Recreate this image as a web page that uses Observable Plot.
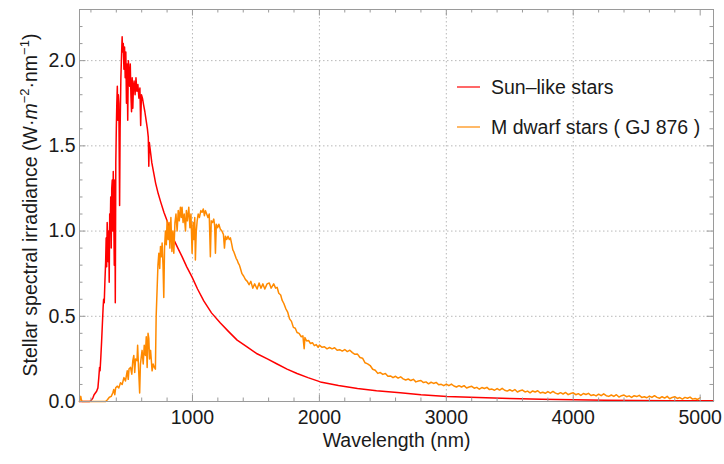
<!DOCTYPE html>
<html><head><meta charset="utf-8">
<script src="https://cdn.jsdelivr.net/npm/d3@7"></script>
<script src="https://cdn.jsdelivr.net/npm/@observablehq/plot@0.6"></script>
<style>body{margin:0;background:#fff}</style>
</head><body><div id="chart"></div>
<script>
// Sun-like stars: [wavelength nm, irradiance W·m^-2·nm^-1]
const sunLike = [
[110,0],[150,0],[190,0],[200,0.005],[215,0.02],[225,0.04],[235,0.05],[245,0.06],[255,0.08],[262,0.14],[268,0.2],[272,0.18],[278,0.26],[284,0.35],[290,0.45],[296,0.55],[300,0.6],[305,0.58],[310,0.7],[316,0.82],[320,0.96],[324,0.79],[328,1.05],[332,0.95],[336,0.82],[340,1.0],[344,0.7],[348,1.1],[352,1.0],[356,1.2],[360,0.9],[364,1.25],[368,1.3],[372,1.0],[376,1.35],[380,1.1],[384,0.8],[388,1.3],[392,0.58],[396,1.4],[400,1.6],[404,1.75],[408,1.85],[412,1.65],[416,1.8],[420,1.75],[426,1.15],[430,1.6],[436,1.9],[442,2.05],[446,2.14],[450,2.05],[455,2.1],[460,1.95],[465,2.08],[470,1.9],[475,2.05],[480,1.75],[485,1.98],[490,1.65],[495,2.0],[500,1.92],[505,1.85],[510,1.98],[515,1.8],[520,1.7],[525,1.9],[530,1.72],[535,1.85],[540,1.88],[548,1.8],[555,1.9],[562,1.82],[570,1.86],[578,1.78],[586,1.84],[592,1.62],[598,1.8],[606,1.78],[615,1.74],[625,1.7],[635,1.65],[645,1.6],[652,1.55],[656,1.38],[660,1.52],[670,1.46],[680,1.4],[695,1.34],[710,1.28],[730,1.22],[750,1.17],[775,1.11],[800,1.06],[825,1.0],[853,0.95],[885,0.9],[918,0.85],[955,0.79],[997,0.73],[1040,0.66],[1089,0.59],[1150,0.52],[1220,0.46],[1285,0.41],[1352,0.36],[1430,0.32],[1509,0.28],[1590,0.25],[1667,0.22],[1745,0.19],[1824,0.164],[1910,0.14],[2008,0.115],[2150,0.094],[2300,0.076],[2450,0.063],[2637,0.052],[2800,0.04],[3005,0.03],[3250,0.023],[3500,0.017],[3750,0.013],[4000,0.01],[4250,0.008],[4500,0.006],[4750,0.005],[5000,0.004],[5105,0.004]
];
// M dwarf stars (GJ 876)
const mDwarfVisible = [
[110,0],[115,0.02],[120,0.03],[125,0.01],[130,0],[200,0],[280,0],[315,0],[330,0.01],[345,0.025],[360,0.03],[372,0.05],[380,0.07],[388,0.04],[395,0.08],[407,0.09],[420,0.08],[433,0.11],[446,0.1],[460,0.14],[472,0.12],[486,0.18],[494,0.13],[500,0.19],[512,0.2],[522,0.16],[530,0.24],[538,0.27],[545,0.17],[552,0.25],[563,0.24],[568,0.33],[575,0.2],[584,0.05],[590,0.22],[603,0.3],[612,0.22],[620,0.33],[629,0.27],[636,0.38],[643,0.2],[650,0.4],[656,0.37],[662,0.25],[670,0.3],[682,0.18],[690,0.22],[700,0.2],[708,0.19],[714,0.5],[722,0.67],[728,0.8],[735,0.87],[742,0.78],[748,0.91],[755,0.85],[761,0.93],[768,0.8],[774,0.61],[780,0.9],[787,1.0],[794,0.92],[800,1.06],[808,0.95],[816,1.05],[822,0.9],[830,1.08],[838,0.88],[846,1.0],[853,0.87],[862,1.05],[870,1.1],[879,1.0],[888,1.12],[896,1.06],[905,1.14],[912,1.08],[918,1.14],[926,1.05],[935,1.1],[945,1.0],[952,1.12],[960,1.06],[971,1.14],[980,1.02],[988,1.1],[997,0.87],[1005,1.05],[1012,0.95],[1018,1.08],[1023,0.83],[1030,1.0],[1037,1.06],[1045,1.1],[1055,1.08],[1066,1.12],[1076,1.11],[1085,1.13],[1094,1.09],[1102,1.12],[1112,1.1],[1122,1.08],[1132,1.1],[1141,0.85],[1148,1.06],[1158,1.05],[1168,1.07],[1175,1.03],[1181,0.87],[1188,1.04],[1198,1.02],[1208,1.04],[1220,1.01],[1232,1.0],[1244,0.98],[1252,0.9],[1260,0.97],[1270,0.95],[1280,0.97],[1290,0.95],[1299,0.96],[1310,0.92],[1318,0.89],[1325,0.88],[1335,0.86],[1344,0.84],[1352,0.83],[1362,0.81],[1370,0.8],[1378,0.78],[1390,0.75]
];
const mDwarfInfrared = [
[1404,0.735],[1418,0.715],[1432,0.705],[1446,0.685],[1460,0.705],[1475,0.665],[1490,0.69],[1509,0.66],[1525,0.695],[1540,0.665],[1555,0.69],[1570,0.66],[1588,0.69],[1605,0.695],[1620,0.665],[1640,0.69],[1655,0.665],[1667,0.67],[1680,0.635],[1695,0.625],[1706,0.595],[1720,0.575],[1735,0.545],[1750,0.525],[1765,0.485],[1780,0.47],[1795,0.435],[1810,0.43],[1824,0.405],[1840,0.4],[1856,0.38],[1870,0.385],[1880,0.31],[1886,0.375],[1900,0.355],[1915,0.358],[1930,0.34],[1945,0.345],[1960,0.328],[1975,0.334],[1990,0.318]
];
const mDwarfTail = [
[2000,0.331],[2020,0.318],[2040,0.321],[2060,0.309],[2080,0.317],[2100,0.309],[2120,0.315],[2140,0.301],[2160,0.304],[2180,0.296],[2200,0.305],[2220,0.293],[2240,0.301],[2260,0.287],[2280,0.277],[2300,0.278],[2320,0.258],[2340,0.254],[2360,0.227],[2380,0.221],[2400,0.211],[2420,0.189],[2440,0.183],[2460,0.165],[2480,0.17],[2500,0.159],[2520,0.164],[2540,0.148],[2560,0.15],[2580,0.14],[2600,0.148],[2620,0.137],[2640,0.145],[2660,0.133],[2680,0.126],[2700,0.132],[2720,0.123],[2740,0.13],[2760,0.115],[2780,0.12],[2800,0.123],[2820,0.111],[2840,0.115],[2860,0.104],[2880,0.113],[2900,0.106],[2920,0.112],[2940,0.098],[2960,0.101],[2980,0.093],[3000,0.102],[3020,0.093],[3040,0.102],[3060,0.091],[3080,0.085],[3100,0.093],[3120,0.085],[3140,0.093],[3160,0.079],[3180,0.085],[3200,0.089],[3220,0.078],[3240,0.083],[3260,0.072],[3280,0.082],[3300,0.076],[3320,0.083],[3340,0.07],[3360,0.073],[3380,0.066],[3400,0.076],[3420,0.067],[3440,0.077],[3460,0.066],[3480,0.061],[3500,0.069],[3520,0.061],[3540,0.07],[3560,0.056],[3580,0.063],[3600,0.067],[3620,0.056],[3640,0.061],[3660,0.051],[3680,0.062],[3700,0.056],[3720,0.063],[3740,0.05],[3760,0.054],[3780,0.048],[3800,0.058],[3820,0.049],[3840,0.059],[3860,0.049],[3880,0.044],[3900,0.052],[3920,0.044],[3940,0.053],[3960,0.04],[3980,0.047],[4000,0.051],[4020,0.04],[4040,0.046],[4060,0.036],[4080,0.047],[4100,0.041],[4120,0.048],[4140,0.035],[4160,0.04],[4180,0.033],[4200,0.043],[4220,0.034],[4240,0.045],[4260,0.034],[4280,0.03],[4300,0.038],[4320,0.03],[4340,0.04],[4360,0.026],[4380,0.034],[4400,0.038],[4420,0.028],[4440,0.033],[4460,0.024],[4480,0.034],[4500,0.029],[4520,0.036],[4540,0.024],[4560,0.028],[4580,0.022],[4600,0.032],[4620,0.024],[4640,0.034],[4660,0.024],[4680,0.019],[4700,0.028],[4720,0.02],[4740,0.03],[4760,0.016],[4780,0.024],[4800,0.028],[4820,0.018],[4840,0.023],[4860,0.014],[4880,0.024],[4900,0.019],[4920,0.026],[4940,0.014],[4960,0.018],[4980,0.012],[5000,0.022]
];
const mDwarf = [...mDwarfVisible, ...mDwarfInfrared, ...mDwarfTail];

const xTicks = [1000, 2000, 3000, 4000, 5000];
const xGrid = [1000, 2000, 3000, 4000];
const xMinor = [200,400,600,800,1200,1400,1600,1800,2200,2400,2600,2800,3200,3400,3600,3800,4200,4400,4600,4800];
const yTicks = [0, 0.5, 1.0, 1.5, 2.0];
const yGrid = [0.5, 1.0, 1.5, 2.0];
const yMinor = [0.1,0.2,0.3,0.4,0.6,0.7,0.8,0.9,1.1,1.2,1.3,1.4,1.6,1.7,1.8,1.9,2.1,2.2];
const seriesNames = ["Sun\u2013like stars", "M dwarf stars ( GJ 876 )"];
const seriesColors = ["#ff0000", "#ff8a00"];
const xTitle = "Wavelength (nm)";

const W = 724, H = 464, mL = 79, mR = 11, mT = 9, mB = 63;
const pw = W - mL - mR, ph = H - mT - mB;
const tickCol = "#9a9a9a";
const gridStyle = {stroke: "#b8b8b8", strokeOpacity: 1, strokeDasharray: "1.5,2.5", strokeWidth: 1};
const font = "'Liberation Sans', Arial, sans-serif";
const fs = 19.5;

const plot = Plot.plot({
  width: W, height: H,
  marginLeft: mL, marginRight: mR, marginTop: mT, marginBottom: mB,
  style: {fontFamily: font, fontSize: fs + "px", color: "#1a1a1a", background: "#fff"},
  x: {domain: [110, 5105]},
  y: {domain: [0, 2.3]},
  marks: [
    Plot.gridX(xGrid, gridStyle),
    Plot.gridY(yGrid, gridStyle),
    Plot.line(sunLike, {x: d => d[0], y: d => d[1], stroke: seriesColors[0], strokeWidth: 1.5}),
    Plot.line(mDwarf, {x: d => d[0], y: d => d[1], stroke: seriesColors[1], strokeWidth: 1.5}),
    Plot.frame({stroke: tickCol}),
    Plot.tickX(xMinor, {x: d => d, insetTop: ph - 3.5, stroke: tickCol}),
    Plot.tickX(xTicks, {x: d => d, insetTop: ph - 6.5, stroke: tickCol}),
    Plot.tickX(xMinor, {x: d => d, insetBottom: ph - 3.5, stroke: tickCol}),
    Plot.tickX(xTicks, {x: d => d, insetBottom: ph - 6.5, stroke: tickCol}),
    Plot.tickY(yMinor, {y: d => d, insetRight: pw - 3.5, stroke: tickCol}),
    Plot.tickY(yTicks, {y: d => d, insetRight: pw - 6.5, stroke: tickCol}),
    Plot.tickY(yMinor, {y: d => d, insetLeft: pw - 3.5, stroke: tickCol}),
    Plot.tickY(yTicks, {y: d => d, insetLeft: pw - 6.5, stroke: tickCol}),
    Plot.axisX(xTicks, {tickSize: 0, tickPadding: 9, label: null, tickFormat: d => String(d), fontSize: fs, fill: "#1a1a1a"}),
    Plot.axisY(yTicks, {tickSize: 0, tickPadding: 4, label: null, tickFormat: d => d.toFixed(1), fontSize: fs, fill: "#1a1a1a"}),
    Plot.text([xTitle], {frameAnchor: "bottom", dy: 45, text: d => d, fontSize: fs, fill: "#1a1a1a"})
  ]
});
document.getElementById("chart").appendChild(plot);

// y-axis title with superscripts
const svg = d3.select(plot);
const yt = svg.append("text")
  .attr("transform", `translate(36.5,${mT + ph / 2}) rotate(-90)`)
  .attr("text-anchor", "middle")
  .attr("font-family", font).attr("font-size", fs).attr("fill", "#1a1a1a");
yt.append("tspan").text("Stellar spectral irradiance (W\u00b7");
yt.append("tspan").attr("font-style", "italic").text("m");
yt.append("tspan").attr("font-size", 13).attr("dy", -8).text("\u22122");
yt.append("tspan").attr("dy", 8).text("\u00b7nm");
yt.append("tspan").attr("font-size", 13).attr("dy", -8).text("\u22121");
yt.append("tspan").attr("dy", 8).text(")");

// legend
const lg = svg.append("g").attr("font-family", font).attr("font-size", fs).attr("fill", "#1a1a1a").attr("text-anchor", "start");
const legendY = [87, 127];
seriesNames.forEach((name, i) => {
  lg.append("line").attr("x1", 457).attr("x2", 480).attr("y1", legendY[i]).attr("y2", legendY[i])
    .attr("stroke", seriesColors[i]).attr("stroke-width", 1.4).attr("stroke-opacity", 0.85);
  lg.append("text").attr("x", 491).attr("y", legendY[i] + 7).attr("text-anchor", "start").text(name);
});
</script>
</body></html>
